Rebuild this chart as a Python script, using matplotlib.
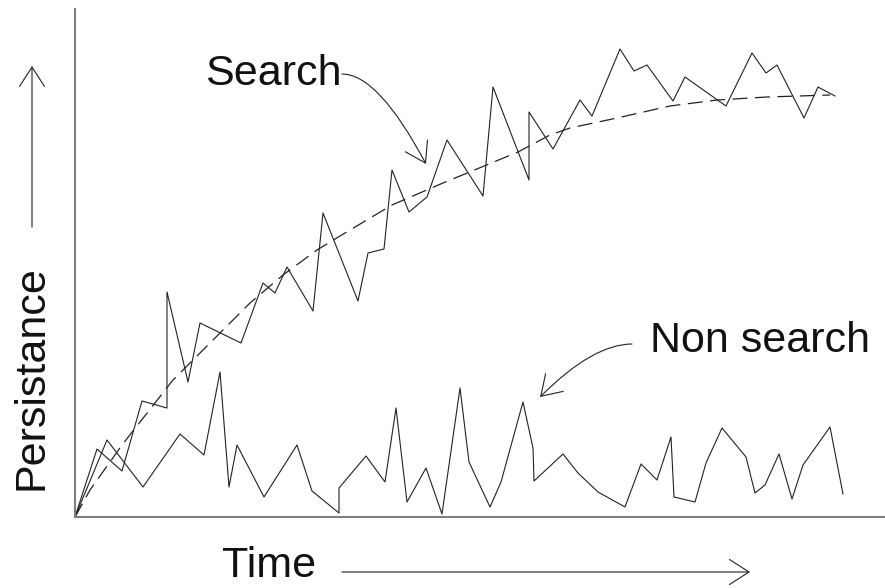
import matplotlib
matplotlib.use("Agg")
import matplotlib.pyplot as plt

plt.rcParams['font.family'] = ['Liberation Sans', 'DejaVu Sans']

# jagged "search" series (time, persistance)
search_time = [0, 22, 47, 67, 92, 92, 113, 125, 166, 188,
               200, 212, 238, 248, 283, 293, 309, 317, 334, 352,
               372, 408, 418, 454, 454, 478, 505, 517, 545, 559,
               572, 598, 610, 651, 677, 691, 702, 729, 743, 760]
search_vals = [0, 68, 46, 116, 109, 225, 135, 194, 174, 234,
               224, 250, 206, 304, 216, 264, 268, 347, 305, 320,
               377, 321, 430, 337, 405, 368, 417, 401, 468, 446,
               452, 416, 440, 411, 464, 444, 452, 399, 430, 421]

# smooth trend through the search series (dashed)
trend_time = [0, 15, 47, 98, 137, 175, 208, 242, 270, 317,
              368, 443, 475, 495, 542, 595, 642, 692, 755]
trend_vals = [0, 27, 72, 137, 176, 214, 242, 267, 284, 312,
              334, 365, 382, 389, 399, 411, 417, 420, 422]

# jagged "non search" series
nonsearch_time = [0, 32, 68, 105, 129, 145, 154, 162, 189, 222,
                  237, 264, 264, 291, 310, 321, 332, 351, 367, 385,
                  394, 415, 426, 448, 458, 459, 488, 503, 523, 550,
                  566, 582, 596, 599, 620, 631, 647, 671, 680, 690,
                  704, 717, 728, 755, 768]
nonsearch_vals = [0, 77, 30, 83, 62, 145, 30, 72, 20, 72,
                  26, 4, 29, 61, 35, 109, 15, 49, 3, 129,
                  55, 10, 35, 115, 69, 36, 63, 44, 25, 10,
                  53, 37, 80, 20, 15, 54, 89, 60, 24, 32,
                  63, 18, 52, 90, 23]

LINE = '#222222'
W, H = 885, 588

fig = plt.figure(figsize=(W / 100, H / 100), dpi=100)
ax = fig.add_axes([75 / W, 71 / H, 810 / W, 508 / H])

ax.plot(search_time, search_vals, color=LINE, lw=0.8)
ax.plot(nonsearch_time, nonsearch_vals, color=LINE, lw=0.8)
ax.plot(trend_time, trend_vals, color=LINE, lw=0.9, dashes=(12, 6))

ax.set_xlim(0, 810)
ax.set_ylim(0, 508)
ax.set_xticks([])
ax.set_yticks([])
for side in ['top', 'right']:
    ax.spines[side].set_visible(False)
for side in ['left', 'bottom']:
    ax.spines[side].set_color('#7f7f7f')
    ax.spines[side].set_linewidth(1.5)

FS = 31
ax.text(130, 432, "Search", fontsize=FS, ha='left', va='baseline', color='#111111')
ax.text(575, 165, "Non search", fontsize=FS, ha='left', va='baseline', color='#111111')

arrow = dict(arrowstyle='->,head_length=0.7,head_width=0.45', color=LINE, lw=0.8,
             shrinkA=0, shrinkB=0, mutation_scale=20)

# curved pointers from the labels to the curves
ax.annotate('', xy=(351, 353), xytext=(267, 443),
            arrowprops=dict(arrow, connectionstyle='angle3,angleA=0,angleB=118'))
ax.annotate('', xy=(465, 120), xytext=(557, 173),
            arrowprops=dict(arrow, connectionstyle='angle3,angleA=0,angleB=45'))

# axis labels with arrows (figure pixels, origin bottom-left)
fig.text(222 / W, (H - 577) / H, "Time", fontsize=FS, ha='left', va='baseline', color='#111111')
ax.annotate('', xy=(750, H - 572), xytext=(342, H - 572), xycoords='figure pixels',
            textcoords='figure pixels', arrowprops=arrow)

fig.text(43 / W, (H - 378) / H, "Persistance", fontsize=FS, rotation=90,
         rotation_mode='anchor', ha='center', va='baseline', color='#111111')
ax.annotate('', xy=(32, H - 66), xytext=(32, H - 227), xycoords='figure pixels',
            textcoords='figure pixels', arrowprops=arrow)

fig.savefig("out.png", dpi=100)
